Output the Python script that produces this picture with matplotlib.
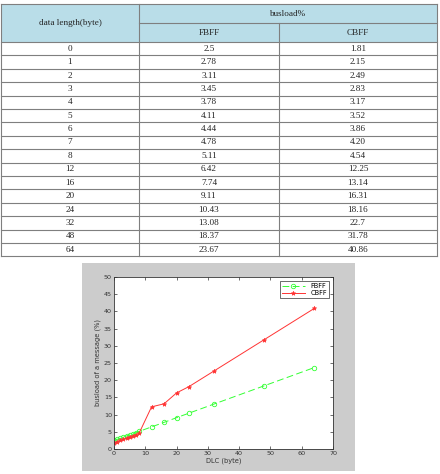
import matplotlib.pyplot as plt
from matplotlib.patches import Rectangle

# ---------------- DATA ----------------
dlc = [0, 1, 2, 3, 4, 5, 6, 7, 8, 12, 16, 20, 24, 32, 48, 64]
fbff = [2.5, 2.78, 3.11, 3.45, 3.78, 4.11, 4.44, 4.78, 5.11, 6.42, 7.74, 9.11, 10.43, 13.08, 18.37, 23.67]
cbff = [1.81, 2.15, 2.49, 2.83, 3.17, 3.52, 3.86, 4.20, 4.54, 12.25, 13.14, 16.31, 18.16, 22.7, 31.78, 40.86]
fbff_txt = ["2.5", "2.78", "3.11", "3.45", "3.78", "4.11", "4.44", "4.78", "5.11", "6.42", "7.74", "9.11", "10.43", "13.08", "18.37", "23.67"]
cbff_txt = ["1.81", "2.15", "2.49", "2.83", "3.17", "3.52", "3.86", "4.20", "4.54", "12.25", "13.14", "16.31", "18.16", "22.7", "31.78", "40.86"]
header_left = "data length(byte)"
header_top = "busload%"
series_names = ["FBFF", "CBFF"]

W, H = 440, 474
fig = plt.figure(figsize=(W / 100, H / 100), dpi=100)

# ---------------- TABLE (pixel coords) ----------------
tab = fig.add_axes([0, 0, 1, 1])
tab.set_xlim(0, W)
tab.set_ylim(H, 0)
tab.axis("off")

x0, x1, x2, x3 = 1, 139, 279, 437
y_top, y_mid, y_head = 4, 23, 42
row_h = 13.4
y_bot = y_head + row_h * len(dlc)
hdr_color = "#b9dde8"
line_c = "#7f7f7f"
tfont = dict(family="Liberation Serif", fontsize=6.6, color="#222222", ha="center", va="center")

tab.add_patch(Rectangle((x0, y_top), x3 - x0, y_head - y_top, facecolor=hdr_color, edgecolor="none"))
tab.text((x0 + x1) / 2, (y_top + y_head) / 2, header_left, **tfont)
tab.text((x1 + x3) / 2, (y_top + y_mid) / 2, header_top, **tfont)
tab.text((x1 + x2) / 2, (y_mid + y_head) / 2, series_names[0], **tfont)
tab.text((x2 + x3) / 2, (y_mid + y_head) / 2, series_names[1], **tfont)

for i, (d, a, b) in enumerate(zip(dlc, fbff_txt, cbff_txt)):
    yc = y_head + row_h * (i + 0.5)
    tab.text((x0 + x1) / 2, yc, str(d), **tfont)
    tab.text((x1 + x2) / 2, yc, a, **tfont)
    tab.text((x2 + x3) / 2, yc, b, **tfont)

lw = 0.8
# horizontal lines
tab.plot([x0, x3], [y_top, y_top], color=line_c, lw=lw)
tab.plot([x1, x3], [y_mid, y_mid], color=line_c, lw=lw)
for i in range(len(dlc) + 1):
    y = y_head + row_h * i
    tab.plot([x0, x3], [y, y], color=line_c, lw=lw)
# vertical lines
for x in (x0, x1, x3):
    tab.plot([x, x], [y_top, y_bot], color=line_c, lw=lw)
tab.plot([x2, x2], [y_mid, y_bot], color=line_c, lw=lw)

# gray figure background behind the chart
tab.add_patch(Rectangle((82, 263), 355 - 82, 471 - 263, facecolor="#cccccc", edgecolor="none", zorder=0))

# ---------------- CHART ----------------
ax = fig.add_axes([114 / W, 1 - 449 / H, (333 - 114) / W, (449 - 277) / H])
ax.plot(dlc, fbff, color="#33ff33", linestyle="--", dashes=(7, 3.5), lw=0.7,
        marker="o", markersize=3.2, markerfacecolor="none", markeredgewidth=0.6, label=series_names[0])
ax.plot(dlc, cbff, color="#ff3333", linestyle="-", lw=0.7,
        marker="*", markersize=3.2, markeredgewidth=0.5, label=series_names[1])
ax.set_xlim(0, 70)
ax.set_ylim(0, 50)
ax.set_xticks(range(0, 71, 10))
ax.set_yticks(range(0, 51, 5))
ax.tick_params(direction="in", length=2, width=0.5, labelsize=4.6, pad=1.5,
               top=True, right=True, colors="#333333")
for s in ax.spines.values():
    s.set_linewidth(0.6)
    s.set_color("#333333")
ax.set_xlabel("DLC (byte)", fontsize=4.8, labelpad=1, color="#333333")
ax.set_ylabel("busload of a message (%)", fontsize=4.8, labelpad=2, color="#333333")
leg = ax.legend(loc="upper right", fontsize=4.8, handlelength=3.5, numpoints=1, borderpad=0.3,
                labelspacing=0.2, fancybox=False, framealpha=1, edgecolor="#333333",
                borderaxespad=0.6)
leg.get_frame().set_linewidth(0.5)

fig.savefig("out.png", dpi=100)
